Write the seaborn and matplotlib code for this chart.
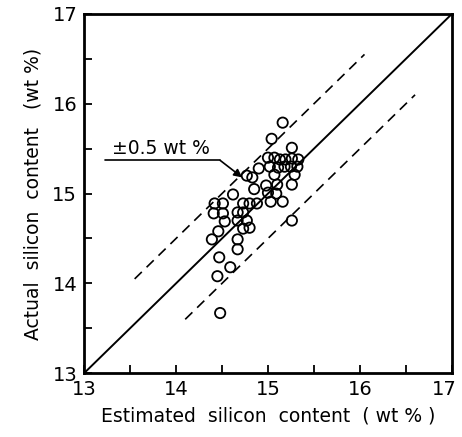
import matplotlib
matplotlib.use("Agg")
import matplotlib.pyplot as plt
import matplotlib.transforms as mtransforms
import seaborn as sns
import pandas as pd
import numpy as np

estimated = [15.16, 15.04, 15.26, 15.00, 15.07, 15.13, 15.19, 15.26, 15.33, 15.02,
             15.11, 15.18, 15.25, 15.32, 15.07, 15.29, 14.98, 15.10, 15.26, 15.00,
             15.09, 15.03, 15.16, 15.26, 14.83, 14.90, 14.62, 14.73, 14.80, 14.88,
             14.67, 14.73, 14.67, 14.77, 14.73, 14.80, 14.42, 14.51, 14.41, 14.51,
             14.53, 14.46, 14.39, 14.67, 14.67, 14.47, 14.59, 14.45, 14.48, 14.77,
             14.85]
actual = [15.79, 15.61, 15.51, 15.40, 15.40, 15.38, 15.38, 15.39, 15.38, 15.30,
          15.29, 15.30, 15.30, 15.30, 15.21, 15.21, 15.09, 15.10, 15.10, 15.01,
          15.00, 14.91, 14.91, 14.70, 15.18, 15.28, 14.99, 14.89, 14.89, 14.89,
          14.79, 14.79, 14.70, 14.70, 14.61, 14.62, 14.89, 14.89, 14.78, 14.78,
          14.69, 14.58, 14.49, 14.49, 14.38, 14.29, 14.18, 14.08, 13.67, 15.20,
          15.05]

ideal_line = [13, 17]
upper_band = [13.55, 16.05]
lower_band = [14.10, 16.60]
band = 0.5
ticks = [13, 14, 15, 16, 17]

df = pd.DataFrame({"Estimated": estimated, "Actual": actual})

sns.set_style("ticks")
plt.rcParams['font.family'] = ['DejaVu Sans']
plt.rcParams['text.color'] = 'black'
plt.rcParams['axes.labelcolor'] = 'black'

fig = plt.figure(figsize=(4.62, 4.37), dpi=100)
ax = fig.add_axes([0.182, 0.146, 0.796, 0.822])

sns.lineplot(x=ideal_line, y=ideal_line, ax=ax, color="black", linewidth=1.4)
sns.lineplot(x=upper_band, y=[v + band for v in upper_band], ax=ax, color="black",
             linewidth=1.2, linestyle=(0, (6, 4)))
sns.lineplot(x=lower_band, y=[v - band for v in lower_band], ax=ax, color="black",
             linewidth=1.2, linestyle=(0, (6, 4)))
sns.scatterplot(data=df, x="Estimated", y="Actual", ax=ax, s=55,
                facecolor="none", edgecolor="black", linewidth=1.3, zorder=3)

ax.set_xlim(13, 17)
ax.set_ylim(13, 17)
ax.set_xticks(ticks)
ax.set_yticks(ticks)
ax.set_xticks(np.arange(13.5, 17, 1), minor=True)
ax.set_yticks(np.arange(13.5, 17, 1), minor=True)
ax.tick_params(which="both", direction="in", length=6, width=1.3,
               labelsize=14, pad=5, color="black", labelcolor="black")
for s in ax.spines.values():
    s.set_linewidth(2.0)
    s.set_color("black")

fig.canvas.draw()
last = ax.get_xticklabels()[-1]
last.set_horizontalalignment("right")
last.set_transform(last.get_transform() +
                   mtransforms.ScaledTranslation(5 / 100, 0, fig.dpi_scale_trans))

ax.set_xlabel("Estimated  silicon  content  ( wt % )", fontsize=13.5, labelpad=5)
ax.set_ylabel("Actual  silicon  content   (wt %)", fontsize=13.5, labelpad=7)

# annotation
ax.text(13.84, 15.40, "±0.5 wt %", fontsize=13.5, ha="center", va="bottom")
ax.plot([13.23, 14.48], [15.37, 15.37], color="black", linewidth=1.2)
ax.annotate("", xy=(14.72, 15.18), xytext=(14.48, 15.37),
            arrowprops=dict(arrowstyle="-|>", color="black", lw=1.2,
                            mutation_scale=12, shrinkA=0, shrinkB=0))

fig.savefig("out.png", dpi=100)
